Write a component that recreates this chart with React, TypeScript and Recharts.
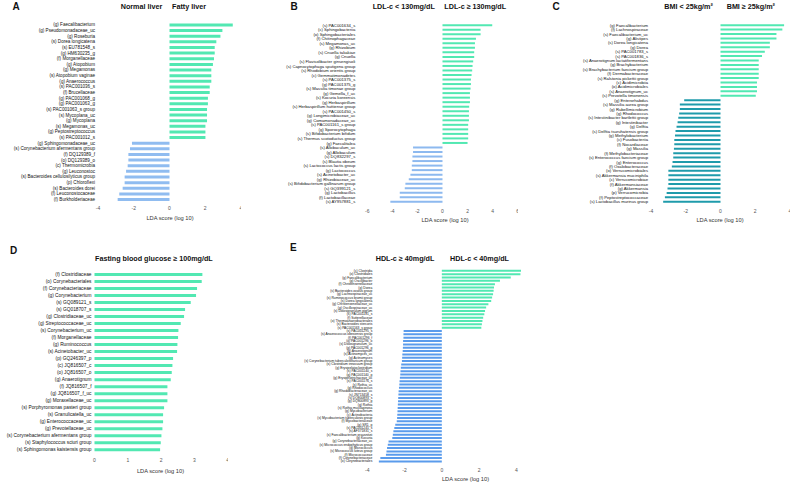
import { Bar, BarChart, Cell, XAxis, YAxis } from 'recharts';

// LEfSe LDA score panels A-E, one BarChart each, laid out on a 793x484 page.

const GREEN = '#52e8b2';
const BLUE_A = '#90bcf0';
const BLUE_B = '#8db9ef';
const TEAL_C = '#1f9bab';
const BLUE_E = '#5a9bec';
const FONT = '"Liberation Sans", Arial, sans-serif';

// A: Normal liver vs Fatty liver
const aLabels = [
  '(g) Faecalibacterium', '(g) Pseudomonadaceae_uc', '(g) Roseburia', '(s) Dorea longicatena',
  '(s) EU781548_s', '(g) HM630235_g', '(f) Morganellaceae', '(g) Atopobium', '(g) Megamonas',
  '(s) Atopobium vaginae', '(g) Anaerococcus', '(s) PAC001036_s', '(f) Brucellaceae',
  '(g) PAC001068_g', '(g) PAC001063_g', '(s) PAC001063_s group', '(s) Mycoplana_uc',
  '(g) Mycoplana', '(s) Megamonas_uc', '(g) Peptostreptococcus', '(s) PAC001012_s',
  '(g) Sphingomonadaceae_uc', '(s) Corynebacterium afermentans group', '(f) DQ129389_f',
  '(o) DQ129389_o', '(c) Thermomicrobia', '(g) Leuconostoc', '(s) Bacteroides cellulosilyticus group',
  '(p) Chloroflexi', '(s) Bacteroides dorei', '(f) Leuconostocaceae', '(f) Burkholderiaceae',
];
const aValues = [
  3.54, 2.96, 2.85, 2.62, 2.53, 2.53, 2.49, 2.43, 2.34, 2.34, 2.34, 2.25, 2.25, 2.15, 2.15, 2.1,
  2.1, 2.1, 2.01, 2.01, 2.01,
  -2.1, -2.21, -2.3, -2.3, -2.34, -2.43, -2.51, -2.51, -2.62, -2.81, -2.9,
];

// B: LDL-c
const bLabels = [
  '(s) PAC001634_s', '(c) Sphingobacteriia', '(o) Sphingobacteriales', '(f) Chitinophagaceae',
  '(s) Megamonas_uc', '(g) Rhizobium', '(s) Cnuella takakiae', '(g) Cnuella',
  '(s) Flavisolibacter ginsengisoli', '(s) Capnocytophaga sputigena group', '(s) Rhodobium orientis group',
  '(c) Gemmatimonadetes', '(s) PAC001375_s', '(g) PAC001375_g', '(s) Massilia timonae group',
  '(g) Gemella_f_uc', '(s) Kocuria koreensis', '(g) Herbaspirillum', '(s) Herbaspirillum huttiense group',
  '(s) PAC001450_s', '(g) Longimicrobiaceae_uc', '(g) Comamonadaceae_uc', '(s) PAC001161_s group',
  '(g) Sporocytophaga', '(s) Bifidobacterium bifidum', '(s) Thermus scotoductus group', '(g) Faecalitalea',
  '(s) Allobaculum_uc', '(g) Allobaculum', '(s) DQ832297_s', '(s) Blautia obeum',
  '(s) Lactococcus lactis group', '(g) Lactococcus', '(s) Acinetobacter_uc', '(g) Rhizobiaceae_uc',
  '(s) Bifidobacterium gallinarum group', '(s) GQ399121_s', '(g) Lactobacillus', '(f) Lactobacillaceae',
  '(s) AY957881_s',
];
const bValues = [
  3.97, 3.04, 3.04, 2.67, 2.59, 2.59, 2.53, 2.53, 2.45, 2.4, 2.37, 2.32, 2.27, 2.27, 2.24, 2.19,
  2.19, 2.19, 2.13, 2.11, 2.11, 2.11, 2.05, 2.05, 2.05, 2.05, 2.0,
  -2.35, -2.35, -2.4, -2.4, -2.45, -2.45, -2.56, -2.69, -2.96, -3.01, -3.41, -3.41, -4.16,
];

// C: BMI
const cLabels = [
  '(g) Faecalibacterium', '(f) Lachnospiraceae', '(s) Faecalibacterium_uc', '(g) Alistipes',
  '(s) Dorea longicatena', '(g) Dorea', '(s) PAC001783_s', '(s) PAC001836_s',
  '(s) Anaerotignum lactatifermentans', '(g) Brachybacterium', '(s) Brachybacterium faecium group',
  '(f) Dermabacteraceae', '(s) Ralstonia pickettii group', '(c) Acidimicrobiia', '(o) Acidimicrobiales',
  '(s) Anaerotignum_uc', '(s) Prevotella timonensis',
  '(g) Enterorhabdus', '(s) Massilia aurea group', '(g) Rubellimicrobium', '(g) Rhodococcus',
  '(s) Intestinibacter bartlettii group', '(g) Intestinibacter', '(g) Delftia',
  '(s) Delftia tsuruhatensis group', '(g) Methylobacterium', '(c) Fusobacteriia', '(f) Nocardiaceae',
  '(g) Massilia', '(f) Methylobacteriaceae', '(s) Enterococcus faecium group', '(g) Enterococcus',
  '(f) Oxalobacteraceae', '(o) Verrucomicrobiales', '(s) Akkermansia muciniphila',
  '(c) Verrucomicrobiae', '(f) Akkermansiaceae', '(g) Akkermansia', '(p) Verrucomicrobia',
  '(f) Peptostreptococcaceae', '(s) Lactobacillus murinus group',
];
const cValues = [
  3.66, 3.56, 3.22, 3.22, 2.84, 2.84, 2.55, 2.39, 2.2, 2.2, 2.2, 2.2, 2.2, 2.1, 2.1, 2.1, 2.03,
  -2.09, -2.34, -2.34, -2.38, -2.43, -2.47, -2.53, -2.59, -2.62, -2.66, -2.66, -2.68, -2.72, -2.72,
  -2.76, -2.8, -3.0, -3.0, -3.0, -3.0, -3.05, -3.1, -3.2, -3.3,
];

// D: Fasting blood glucose
const dLabels = [
  '(f) Clostridiaceae', '(o) Corynebacteriales', '(f) Corynebacteriaceae', '(g) Corynebacterium',
  '(s) GQ089121_s', '(s) GQ018707_s', '(g) Clostridiaceae_uc', '(g) Streptococcaceae_uc',
  '(s) Corynebacterium_uc', '(f) Morganellaceae', '(g) Ruminococcus', '(s) Acinetobacter_uc',
  '(p) GQ246397_p', '(c) JQ816507_c', '(o) JQ816507_o', '(g) Anaerotignum', '(f) JQ816507_f',
  '(g) JQ816507_f_uc', '(g) Moraxellaceae_uc', '(s) Porphyromonas pasteri group',
  '(s) Granulicatella_uc', '(g) Enterococcaceae_uc', '(g) Prevotellaceae_uc',
  '(s) Corynebacterium afermentans group', '(s) Staphylococcus sciuri group',
  '(s) Sphingomonas kaistensis group',
];
const dValues = [
  3.24, 3.22, 3.08, 3.05, 2.89, 2.72, 2.69, 2.59, 2.52, 2.51, 2.49, 2.48, 2.36, 2.34, 2.32, 2.29,
  2.19, 2.19, 2.19, 2.09, 2.06, 2.06, 2.04, 2.01, 1.99, 1.97,
];

// E: HDL-c
const eLabels = [
  '(c) Clostridia', '(o) Clostridiales', '(g) Faecalibacterium', '(g) Oscillibacter',
  '(f) Christensenellaceae', '(g) Dorea', '(s) Bacteroides ovatus group', '(g) Lachnospiraceae_uc',
  '(s) Ruminococcus bromii group', '(s) Dorea longicatena', '(g) Christensenellaceae_uc',
  '(g) Oscillospiraceae_uc', '(s) Dolosigranulum pigrum', '(s) PAC001181_s', '(f) Sutterellaceae',
  '(o) Thermoanaerobacterales', '(s) Bacteroides stercoris', '(s) PAC001163_s group',
  '(s) PAC001295_s', '(s) Anaerococcus obesiensis group', '(f) PAC001296_f', '(o) PAC001296_o',
  '(s) Dolosigranulum_uc', '(g) PAC001296_g', '(g) Anaerotignum', '(s) Actinomyces_uc',
  '(g) Actinomyces', '(s) Corynebacterium tuberculostearicum group', '(s) Clostridium innocuum group',
  '(g) Erysipelatoclostridium', '(s) PAC001140_s', '(g) PAC001140_g', '(g) Erysipelotrichaceae_uc',
  '(s) PAC001176_s', '(s) Rothia_uc', '(g) Rhodococcus', '(g) Rhodobacteraceae_uc', '(s) JN713458_s',
  '(s) DQ800893_s', '(g) DQ800893_g', '(g) Rothia', '(s) Rothia mucilaginosa', '(g) Mycobacterium',
  '(c) Actinobacteria', '(s) Mycobacterium tuberculosis group', '(f) Mycobacteriaceae', '(g) SR1_g',
  '(s) PAC001245_s', '(s) AF371831_s', '(s) Faecalibacterium prausnitzii', '(g) Kocuria',
  '(g) Corynebacteriaceae_uc', '(s) Micrococcus endophyticus group', '(g) Micrococcus',
  '(s) Micrococcus luteus group', '(f) Micrococcaceae', '(f) Corynebacteriaceae', '(o) Corynebacteriales',
];
const eValues = [
  4.25, 4.22, 3.7, 3.12, 2.85, 2.8, 2.78, 2.75, 2.7, 2.65, 2.5, 2.38, 2.32, 2.28, 2.22, 2.18, 2.15, 2.12,
  -2.05, -2.06, -2.06, -2.08, -2.08, -2.09, -2.1, -2.12, -2.13, -2.14, -2.18, -2.2, -2.22, -2.23,
  -2.25, -2.27, -2.28, -2.3, -2.32, -2.33, -2.34, -2.35, -2.36, -2.37, -2.38, -2.39, -2.4, -2.42,
  -2.5, -2.55, -2.6, -2.63, -2.66, -2.86, -2.9, -2.94, -2.97, -3.0, -3.3, -3.38,
];

const ticks4 = [-4, -2, 0, 2, 4];
const ticks6 = [-6, -4, -2, 0, 2, 4, 6];
const ticksD = [0, 1, 2, 3, 4];

function NameTick({ x, y, payload, size, dx }: any) {
  return (
    <text x={x + dx} y={y} dy="0.35em" textAnchor="end" fontSize={size} fill="#111" fontFamily={FONT}>
      {payload.value}
    </text>
  );
}

type PanelProps = {
  labels: string[];
  values: number[];
  left: number;
  plotLeft: number;
  plotRight: number;
  plotTop: number;
  plotHeight: number;
  domain: [number, number];
  ticks: number[];
  neg: string;
  size: number;
  tickGap: number;
  dx?: number;
  gap?: string;
};

function Panel(p: PanelProps) {
  const data = p.labels.map((name, i) => ({ name, value: p.values[i] }));
  const yWidth = p.plotLeft - p.left;
  return (
    <div style={{ position: 'absolute', left: p.left, top: p.plotTop }}>
      <BarChart
        width={p.plotRight - p.left}
        height={p.plotHeight + 16}
        data={data}
        layout="vertical"
        margin={{ top: 0, right: 0, bottom: 0, left: 0 }}
        barCategoryGap={p.gap ?? '26%'}
      >
        <XAxis
          type="number"
          domain={p.domain}
          ticks={p.ticks}
          interval={0}
          axisLine={false}
          tickLine={false}
          tickSize={0}
          tickMargin={p.tickGap}
          height={16}
          tick={{ fontSize: 5, fill: '#555', fontFamily: FONT }}
        />
        <YAxis
          type="category"
          dataKey="name"
          width={yWidth}
          interval={0}
          axisLine={false}
          tickLine={false}
          tickSize={0}
          tickMargin={3}
          tick={<NameTick size={p.size} dx={p.dx ?? 0} />}
        />
        <Bar dataKey="value" isAnimationActive={false}>
          {data.map((d, i) => (
            <Cell key={i} fill={d.value > 0 ? GREEN : p.neg} />
          ))}
        </Bar>
      </BarChart>
    </div>
  );
}

function Txt({ x, y, children, size, bold, anchor }: any) {
  const shift = anchor === 'middle' ? '-50%' : '0';
  return (
    <div
      style={{
        position: 'absolute',
        left: x,
        top: y,
        transform: `translate(${shift}, -50%)`,
        fontFamily: FONT,
        fontSize: size,
        fontWeight: bold ? 'bold' : 'normal',
        whiteSpace: 'nowrap',
        lineHeight: 1,
        color: bold ? '#111' : '#333',
      }}
    >
      {children}
    </div>
  );
}

export default function App() {
  return (
    <div style={{ position: 'absolute', left: 0, top: 0, width: 793, height: 484, background: '#fff', overflow: 'hidden' }}>
      <Panel labels={aLabels} values={aValues} left={0} plotLeft={98} plotRight={241} plotTop={21.9}
        plotHeight={180.2} domain={[-4, 4]} ticks={ticks4} neg={BLUE_A} size={4.6} tickGap={4} />
      <Panel labels={bLabels} values={bValues} left={262} plotLeft={367.3} plotRight={517.7} plotTop={23}
        plotHeight={181.2} domain={[-6, 6]} ticks={ticks6} neg={BLUE_B} size={4.2} tickGap={5} dx={-9} />
      <Panel labels={cLabels} values={cValues} left={527} plotLeft={651} plotRight={790} plotTop={22.8}
        plotHeight={181} domain={[-4, 4]} ticks={ticks4} neg={TEAL_C} size={4.2} tickGap={5} />
      <Panel labels={dLabels} values={dValues} left={0} plotLeft={94.5} plotRight={227.7} plotTop={270.5}
        plotHeight={182.3} domain={[0, 4]} ticks={ticksD} neg={GREEN} size={4.8} tickGap={5} gap="28%" />
      <Panel labels={eLabels} values={eValues} left={262} plotLeft={367.3} plotRight={521} plotTop={269.3}
        plotHeight={194} domain={[-4, 4]} ticks={ticks4} neg={BLUE_E} size={3.3} tickGap={5} dx={8} gap="24%" />

      <Txt x={12.5} y={6.5} size={10} bold>A</Txt>
      <Txt x={120.7} y={6.7} size={7.2} bold>Normal liver</Txt>
      <Txt x={172} y={6.7} size={7.2} bold>Fatty liver</Txt>
      <Txt x={170} y={219} size={5.7} anchor="middle">LDA score (log 10)</Txt>

      <Txt x={290.5} y={6.7} size={10} bold>B</Txt>
      <Txt x={372.7} y={7.3} size={7.2} bold>LDL-c &lt; 130mg/dL</Txt>
      <Txt x={444.3} y={7.3} size={7.2} bold>LDL-c ≥ 130mg/dL</Txt>
      <Txt x={445} y={221} size={5.7} anchor="middle">LDA score (log 10)</Txt>

      <Txt x={552.5} y={6.7} size={10} bold>C</Txt>
      <Txt x={664.3} y={7} size={7.2} bold>BMI &lt; 25kg/m²</Txt>
      <Txt x={726.7} y={7} size={7.2} bold>BMI ≥ 25kg/m²</Txt>
      <Txt x={720} y={221} size={5.7} anchor="middle">LDA score (log 10)</Txt>

      <Txt x={10} y={250.5} size={10} bold>D</Txt>
      <Txt x={95} y={258.7} size={7.2} bold>Fasting blood glucose ≥ 100mg/dL</Txt>
      <Txt x={160.5} y={471.7} size={5.7} anchor="middle">LDA score (log 10)</Txt>

      <Txt x={290} y={247.5} size={10} bold>E</Txt>
      <Txt x={375.7} y={259.3} size={7.2} bold>HDL-c ≥ 40mg/dL</Txt>
      <Txt x={450} y={259.3} size={7.2} bold>HDL-c &lt; 40mg/dL</Txt>
      <Txt x={465.5} y={480} size={5.7} anchor="middle">LDA score (log 10)</Txt>
    </div>
  );
}
